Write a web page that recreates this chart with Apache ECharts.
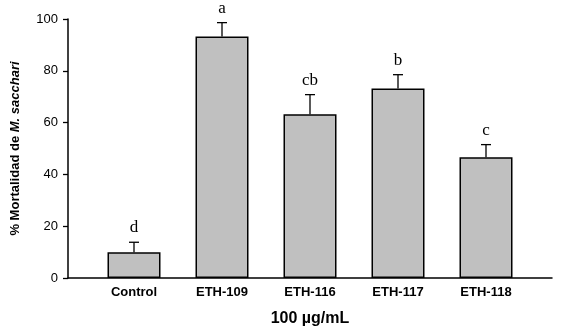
<!DOCTYPE html>
<html>
<head>
<meta charset="utf-8">
<script src="https://cdn.jsdelivr.net/npm/echarts@6/dist/echarts.min.js"></script>
<style>
html,body{margin:0;padding:0;background:#fff;}
#chart{width:569px;height:328px;}
</style>
</head>
<body>
<div id="chart"></div>
<script>
var categories=['Control','ETH-109','ETH-116','ETH-117','ETH-118'];
var means=[9.9,93.2,63.2,73.2,46.6];
var errors=[3.9,5.4,7.6,5.3,4.9];
var letters=['d','a','cb','b','c'];
var yTicks=[0,20,40,60,80,100];

var chart=echarts.init(document.getElementById('chart'));

var barData=means.map(function(v,i){return [i,v];});
var errData=means.map(function(v,i){return [i,v,errors[i],letters[i]];});

function renderErr(params,api){
    var x=api.value(0);
    var top=api.coord([x,api.value(1)]);
    var cap=api.coord([x,api.value(1)+api.value(2)]);
    var st={stroke:'#000',lineWidth:1.3};
    return {
        type:'group',
        children:[
            {type:'line',shape:{x1:top[0],y1:top[1],x2:cap[0],y2:cap[1]},style:st},
            {type:'line',shape:{x1:cap[0]-5,y1:cap[1],x2:cap[0]+5,y2:cap[1]},style:st},
            {type:'text',x:cap[0],y:cap[1]-6,style:{
                text:api.value(3),fill:'#000',
                font:'17px "Liberation Serif", "Times New Roman", serif',
                align:'center',verticalAlign:'bottom'}}
        ]
    };
}

var option={
    backgroundColor:'#fff',
    animation:false,
    grid:{left:68,right:17,top:19,bottom:50,containLabel:false,outerBoundsMode:'none'},
    xAxis:{
        type:'value',
        min:-0.75,
        max:4.75,
        splitLine:{show:false},
        axisLine:{show:true,onZero:false,lineStyle:{color:'#000',width:1.5}},
        axisTick:{show:false},
        axisLabel:{
            customValues:[0,1,2,3,4],
            formatter:function(v){return categories[Math.round(v)];},
            color:'#000',
            fontFamily:'"Liberation Sans", Arial, sans-serif',
            fontWeight:'bold',
            fontSize:13,
            margin:8
        },
        name:'100 µg/mL',
        nameLocation:'middle',
        nameGap:33,
        nameTextStyle:{
            color:'#000',
            fontFamily:'"Liberation Sans", Arial, sans-serif',
            fontWeight:'bold',
            fontSize:16
        }
    },
    yAxis:{
        type:'value',
        min:yTicks[0],
        max:yTicks[yTicks.length-1],
        interval:20,
        splitLine:{show:false},
        axisLine:{show:true,onZero:false,lineStyle:{color:'#000',width:1.5}},
        axisTick:{show:true,length:5,lineStyle:{color:'#000',width:1.3}},
        axisLabel:{
            color:'#000',
            fontFamily:'"Liberation Sans", Arial, sans-serif',
            fontSize:13,
            margin:10
        },
        name:'{n|% Mortalidad de }{i|M. sacchari}',
        nameLocation:'middle',
        nameGap:46,
        nameRotate:90,
        nameTextStyle:{
            rich:{
                n:{color:'#000',fontFamily:'"Liberation Sans", Arial, sans-serif',fontWeight:'bold',fontSize:13},
                i:{color:'#000',fontFamily:'"Liberation Sans", Arial, sans-serif',fontWeight:'bold',fontStyle:'italic',fontSize:13}
            }
        }
    },
    series:[
        {
            type:'bar',
            data:barData,
            barWidth:53,
            itemStyle:{color:'#c0c0c0',borderColor:'#000',borderWidth:1.5},
            z:2
        },
        {
            type:'custom',
            data:errData,
            renderItem:renderErr,
            encode:{x:0,y:1},
            z:3
        }
    ]
};
chart.setOption(option);
</script>
</body>
</html>
